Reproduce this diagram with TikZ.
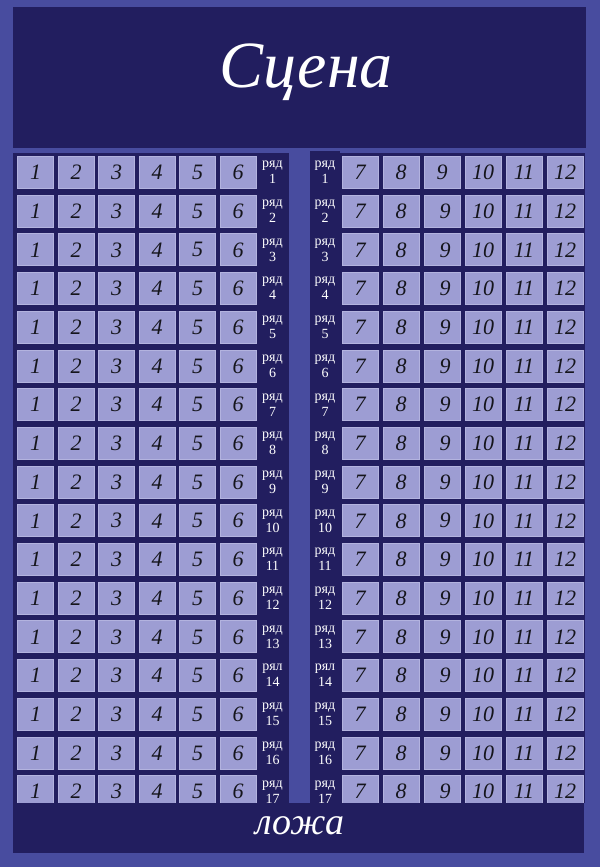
\documentclass[tikz,border=0pt]{standalone}
\usepackage{fontspec}
\setmainfont{Liberation Serif}
\definecolor{outerbg}{HTML}{484C9F}
\definecolor{darkbg}{HTML}{221E5F}
\definecolor{seatfill}{HTML}{9D9DD3}
\definecolor{seatedge}{HTML}{B3B3DF}
\definecolor{numcol}{HTML}{15151C}
\tikzset{
  seat/.style={draw=seatedge, line width=1pt, fill=seatfill, minimum width=36pt, minimum height=32pt,
    inner sep=0pt, text=numcol, font=\itshape\fontsize{22}{22}\selectfont},
  rowlabel/.style={text=white, align=center, inner sep=0pt, font=\fontsize{14}{16}\selectfont},
  bigtitle/.style={text=white, font=\itshape\fontsize{66}{66}\selectfont},
}
\begin{document}
\begin{tikzpicture}[x=1pt,y=-1pt]
\useasboundingbox (0,0) rectangle (600,867);
\fill[outerbg] (0,0) rectangle (600,867);
% stage
\fill[darkbg] (13,7) rectangle (586,148);
\node[bigtitle] (stage) at (306,72) {Сцена};
% seat blocks background
\fill[darkbg] (13,153) rectangle (289,803);
\fill[darkbg] (310,153) rectangle (585,803);
\fill[darkbg] (310,151) rectangle (340,153);
% seats
\foreach \i in {1,...,17}{
  \pgfmathsetmacro\t{156+(\i-1)*38.7+16.5}
  \foreach \j in {1,...,6}{
    \pgfmathsetmacro\xl{17+(\j-1)*40.5+18.5}
    \node[seat] (L\i-\j) at (\xl,\t) {\j};
  }
  \foreach \k in {7,...,12}{
    \pgfmathsetmacro\xr{342+(\k-7)*41+18}
    \ifnum\k=9
      \ifnum\i>1
        \node[seat] (R\i-\k) at (\xr,\t) {\hspace{6pt}\raisebox{-4pt}{9}};
      \else
        \node[seat] (R\i-\k) at (\xr,\t) {9};
      \fi
    \else
      \node[seat] (R\i-\k) at (\xr,\t) {\k};
    \fi
  }
  \node[rowlabel] (LL\i) at (272.5,\t) {\ifnum\i=14 рял\else ряд\fi\\\i};
  \node[rowlabel] (RL\i) at (325,\t) {\ifnum\i=14 рял\else ряд\fi\\\i};
}
% loge
\fill[darkbg] (13,803) rectangle (584,853);
\node[text=white, font=\itshape\fontsize{38}{38}\selectfont] (loge) at (300,826) {ложа};
\end{tikzpicture}
\end{document}
